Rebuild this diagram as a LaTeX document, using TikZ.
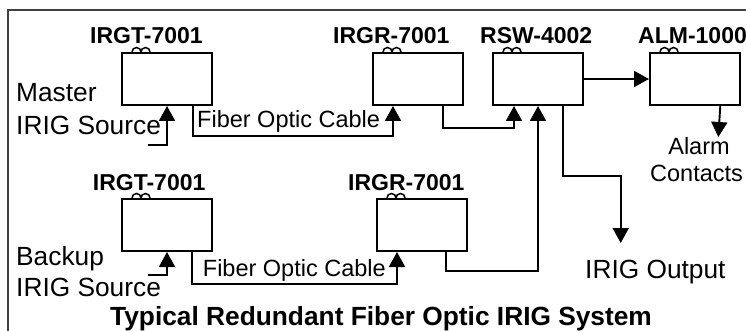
\documentclass[tikz,border=0pt]{standalone}
\usepackage{fontspec}
\setmainfont{Liberation Sans}
\usetikzlibrary{arrows.meta}
\tikzset{
  unit/.style={draw, line width=2pt, minimum width=90pt, minimum height=52pt, inner sep=0pt, anchor=north west},
  lbl/.style={font=\bfseries\fontsize{23}{23}\selectfont, anchor=base west, inner sep=0pt},
  big/.style={font=\fontsize{26.3}{26.3}\selectfont, anchor=base west, inner sep=0pt},
  mid/.style={font=\fontsize{23.5}{23.5}\selectfont, anchor=base west, inner sep=0pt},
  wire/.style={line width=1.9pt},
  arr/.style={wire, -{Triangle[width=16pt,length=15pt]}},
  loopline/.style={line width=1.5pt}
}
\begin{document}
\begin{tikzpicture}[x=1pt,y=1pt]
\clip (0,0) rectangle (746,-331);
\draw[line width=1.2pt, black!75] (8,-10) rectangle (770,-360);
% boxes
\node[unit] (t1) at (121,-52) {};
\node[unit] (r1) at (372,-52) {};
\node[unit] (sw) at (492,-52) {};
\node[unit] (alm) at (649,-52) {};
\node[unit] (t2) at (121,-198) {};
\node[unit] (r2) at (376,-198) {};
% loops
\foreach \b in {t1,r1,sw,alm,t2,r2}{
  \draw[loopline] ([xshift=11pt]\b.north west) arc[start angle=180,end angle=0,radius=4.5pt]
                  arc[start angle=180,end angle=0,radius=4.5pt];
}
% labels
\node[lbl] (lt1) at (90,-44) {IRGT-7001};
\node[lbl] (lr1) at (333,-44) {IRGR-7001};
\node[lbl] (lsw) at (480,-44) {RSW-4002};
\node[lbl] (lalm) at (638,-44) {ALM-1000};
\node[lbl] (lt2) at (92.7,-190) {IRGT-7001};
\node[lbl] (lr2) at (348,-190) {IRGR-7001};
% texts
\node[big] (m1) at (16,-101.7) {Master};
\node[big] (m2) at (16,-134.3) {IRIG Source};
\node[big] (b1) at (16,-265) {Backup};
\node[big] (b2) at (16,-296.7) {IRIG Source};
\node[mid] (f1) at (197,-127.7) {Fiber Optic Cable};
\node[mid] (f2) at (202.7,-276.7) {Fiber Optic Cable};
\node[mid, anchor=base] (al1) at (699,-155) {Alarm};
\node[mid] (al2) at (650,-181.7) {Contacts};
\node[big] (io) at (585,-278.3) {IRIG Output};
\node[font=\bfseries\fontsize{26.3}{26.3}\selectfont, anchor=base west, inner sep=0pt] (title) at (110,-325) {Typical Redundant Fiber Optic IRIG System};
% connectors
\coordinate (ms) at (148,-145);
\coordinate (bs) at (148,-275);
\coordinate (ioend) at (620.7,-243);
\coordinate (alend) at (718.3,-137);
\draw[arr] (ms) -| (t1.south);
\draw[arr] (bs) -| (t2.south);
\draw[arr] ([xshift=-20pt]t1.south east) -- ++(0,-30.3) -| ([xshift=21pt]r1.south west);
\draw[arr] ([xshift=-21pt]t2.south east) -- ++(0,-32) -| ([xshift=21pt]r2.south west);
\draw[arr] ([xshift=-21pt]r1.south east) -- ++(0,-21.7) -| ([xshift=22pt]sw.south west);
\draw[arr] ([xshift=-22pt]r2.south east) -- ++(0,-19.3) -| (sw.south);
\draw[arr] (sw.east) -- (alm.west);
\draw[arr] ([xshift=-20.7pt]alm.south east) -- (alend);
\draw[arr] ([xshift=-20.7pt]sw.south east) -- ++(0,-70) -| (ioend);
\end{tikzpicture}
\end{document}
